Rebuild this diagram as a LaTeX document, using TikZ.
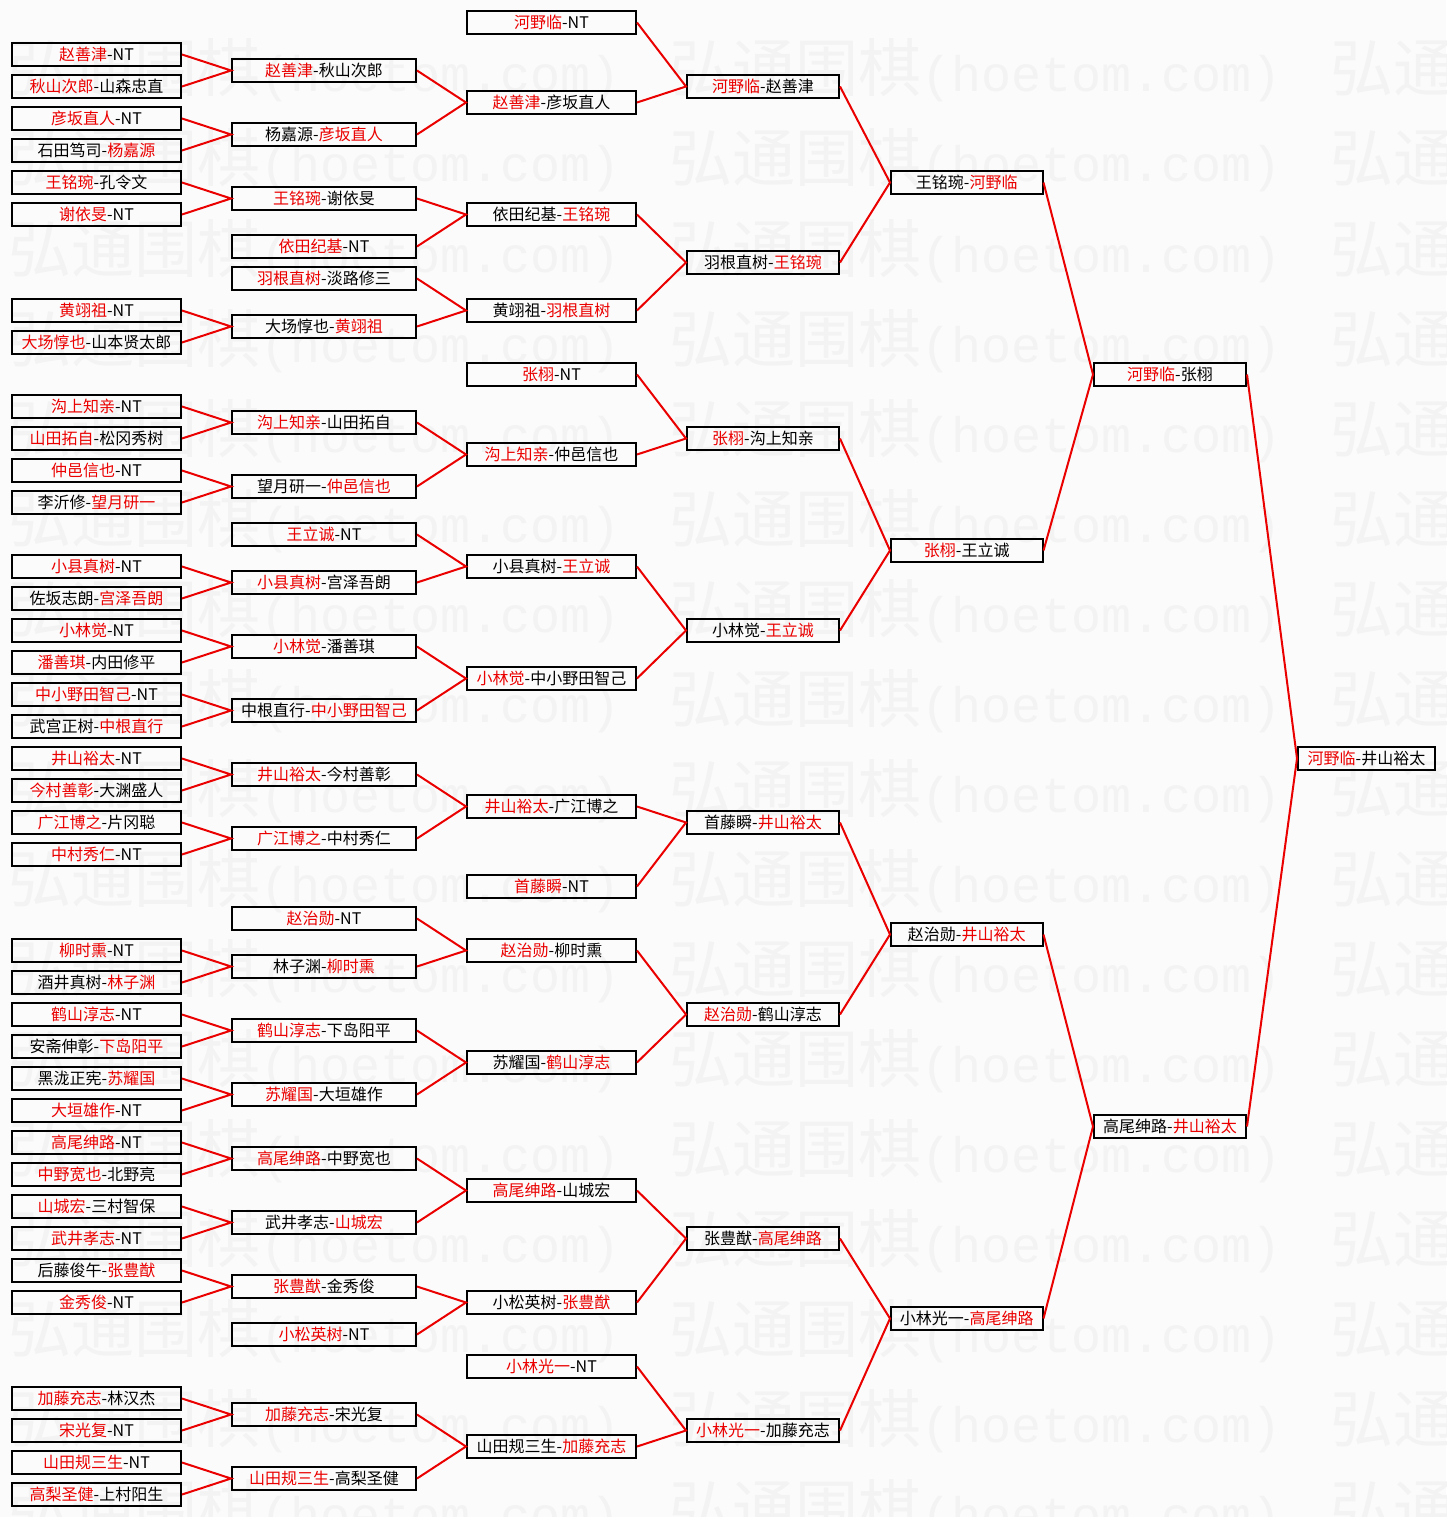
\documentclass[tikz,border=0pt]{standalone}
\usepackage{fontspec}
\newfontfamily\cjkf{Noto Sans CJK SC}
\newfontfamily\wmmono{Liberation Mono}
\definecolor{wred}{RGB}{235,0,0}
\definecolor{bgc}{RGB}{251,251,251}
\definecolor{wmc}{RGB}{243,243,243}
\newcommand\winr[1]{\textcolor{wred}{#1}}
\tikzset{
  box/.style={draw=black, line width=2pt, inner sep=0pt, minimum height=23pt,
    font=\cjkf\fontsize{16}{16}\selectfont, text=black},
  colA/.style={box, minimum width=169pt},
  colB/.style={box, minimum width=184pt},
  colC/.style={box, minimum width=169pt},
  colD/.style={box, minimum width=152pt},
  colE/.style={box, minimum width=151.5pt},
  colF/.style={box, minimum width=152pt},
  colG/.style={box, minimum width=137pt},
  conn/.style={draw=wred, line width=2pt},
  wmark/.style={anchor=base west, inner sep=0pt, text=wmc}
}
\begin{document}
\begin{tikzpicture}[x=1pt,y=-1pt]
\useasboundingbox (0,0) rectangle (1446,1517);
\fill[bgc] (0,0) rectangle (1446,1517);
% watermark
\begin{scope}
\clip (0,0) rectangle (1446,1517);
\foreach \r in {0,...,16}{
  \foreach \c in {0,1,2}{
    \node[wmark] (wm-\r-\c) at ({8+661*\c},{92+90*\r}) {{\cjkf\fontsize{63}{63}\selectfont 弘通围棋}{\wmmono\fontsize{50}{50}\selectfont (hoetom.com)}};
  }
}
\end{scope}
% column 0
\node[colA] (a0) at (96.5,54.5) {\winr{赵善津}-NT};
\node[colA] (a1) at (96.5,86.5) {\winr{秋山次郎}-山森忠直};
\node[colA] (a2) at (96.5,118.5) {\winr{彦坂直人}-NT};
\node[colA] (a3) at (96.5,150.5) {石田笃司-\winr{杨嘉源}};
\node[colA] (a4) at (96.5,182.5) {\winr{王铭琬}-孔令文};
\node[colA] (a5) at (96.5,214.5) {\winr{谢依旻}-NT};
\node[colA] (a6) at (96.5,310.5) {\winr{黄翊祖}-NT};
\node[colA] (a7) at (96.5,342.5) {\winr{大场惇也}-山本贤太郎};
\node[colA] (a8) at (96.5,406.5) {\winr{沟上知亲}-NT};
\node[colA] (a9) at (96.5,438.5) {\winr{山田拓自}-松冈秀树};
\node[colA] (a10) at (96.5,470.5) {\winr{仲邑信也}-NT};
\node[colA] (a11) at (96.5,502.5) {李沂修-\winr{望月研一}};
\node[colA] (a12) at (96.5,566.5) {\winr{小县真树}-NT};
\node[colA] (a13) at (96.5,598.5) {佐坂志朗-\winr{宫泽吾朗}};
\node[colA] (a14) at (96.5,630.5) {\winr{小林觉}-NT};
\node[colA] (a15) at (96.5,662.5) {\winr{潘善琪}-内田修平};
\node[colA] (a16) at (96.5,694.5) {\winr{中小野田智己}-NT};
\node[colA] (a17) at (96.5,726.5) {武宫正树-\winr{中根直行}};
\node[colA] (a18) at (96.5,758.5) {\winr{井山裕太}-NT};
\node[colA] (a19) at (96.5,790.5) {\winr{今村善彰}-大渊盛人};
\node[colA] (a20) at (96.5,822.5) {\winr{广江博之}-片冈聪};
\node[colA] (a21) at (96.5,854.5) {\winr{中村秀仁}-NT};
\node[colA] (a22) at (96.5,950.5) {\winr{柳时熏}-NT};
\node[colA] (a23) at (96.5,982.5) {酒井真树-\winr{林子渊}};
\node[colA] (a24) at (96.5,1014.5) {\winr{鹤山淳志}-NT};
\node[colA] (a25) at (96.5,1046.5) {安斋伸彰-\winr{下岛阳平}};
\node[colA] (a26) at (96.5,1078.5) {黑泷正宪-\winr{苏耀国}};
\node[colA] (a27) at (96.5,1110.5) {\winr{大垣雄作}-NT};
\node[colA] (a28) at (96.5,1142.5) {\winr{高尾绅路}-NT};
\node[colA] (a29) at (96.5,1174.5) {\winr{中野宽也}-北野亮};
\node[colA] (a30) at (96.5,1206.5) {\winr{山城宏}-三村智保};
\node[colA] (a31) at (96.5,1238.5) {\winr{武井孝志}-NT};
\node[colA] (a32) at (96.5,1270.5) {后藤俊午-\winr{张豊猷}};
\node[colA] (a33) at (96.5,1302.5) {\winr{金秀俊}-NT};
\node[colA] (a34) at (96.5,1398.5) {\winr{加藤充志}-林汉杰};
\node[colA] (a35) at (96.5,1430.5) {\winr{宋光复}-NT};
\node[colA] (a36) at (96.5,1462.5) {\winr{山田规三生}-NT};
\node[colA] (a37) at (96.5,1494.5) {\winr{高梨圣健}-上村阳生};
% column 1
\node[colB] (b0) at (324,70.5) {\winr{赵善津}-秋山次郎};
\node[colB] (b1) at (324,134.5) {杨嘉源-\winr{彦坂直人}};
\node[colB] (b2) at (324,198.5) {\winr{王铭琬}-谢依旻};
\node[colB] (b3) at (324,246.5) {\winr{依田纪基}-NT};
\node[colB] (b4) at (324,278.5) {\winr{羽根直树}-淡路修三};
\node[colB] (b5) at (324,326.5) {大场惇也-\winr{黄翊祖}};
\node[colB] (b6) at (324,422.5) {\winr{沟上知亲}-山田拓自};
\node[colB] (b7) at (324,486.5) {望月研一-\winr{仲邑信也}};
\node[colB] (b8) at (324,534.5) {\winr{王立诚}-NT};
\node[colB] (b9) at (324,582.5) {\winr{小县真树}-宫泽吾朗};
\node[colB] (b10) at (324,646.5) {\winr{小林觉}-潘善琪};
\node[colB] (b11) at (324,710.5) {中根直行-\winr{中小野田智己}};
\node[colB] (b12) at (324,774.5) {\winr{井山裕太}-今村善彰};
\node[colB] (b13) at (324,838.5) {\winr{广江博之}-中村秀仁};
\node[colB] (b14) at (324,918.5) {\winr{赵治勋}-NT};
\node[colB] (b15) at (324,966.5) {林子渊-\winr{柳时熏}};
\node[colB] (b16) at (324,1030.5) {\winr{鹤山淳志}-下岛阳平};
\node[colB] (b17) at (324,1094.5) {\winr{苏耀国}-大垣雄作};
\node[colB] (b18) at (324,1158.5) {\winr{高尾绅路}-中野宽也};
\node[colB] (b19) at (324,1222.5) {武井孝志-\winr{山城宏}};
\node[colB] (b20) at (324,1286.5) {\winr{张豊猷}-金秀俊};
\node[colB] (b21) at (324,1334.5) {\winr{小松英树}-NT};
\node[colB] (b22) at (324,1414.5) {\winr{加藤充志}-宋光复};
\node[colB] (b23) at (324,1478.5) {\winr{山田规三生}-高梨圣健};
% column 2
\node[colC] (c0) at (551.5,22.5) {\winr{河野临}-NT};
\node[colC] (c1) at (551.5,102.5) {\winr{赵善津}-彦坂直人};
\node[colC] (c2) at (551.5,214.5) {依田纪基-\winr{王铭琬}};
\node[colC] (c3) at (551.5,310.5) {黄翊祖-\winr{羽根直树}};
\node[colC] (c4) at (551.5,374.5) {\winr{张栩}-NT};
\node[colC] (c5) at (551.5,454.5) {\winr{沟上知亲}-仲邑信也};
\node[colC] (c6) at (551.5,566.5) {小县真树-\winr{王立诚}};
\node[colC] (c7) at (551.5,678.5) {\winr{小林觉}-中小野田智己};
\node[colC] (c8) at (551.5,806.5) {\winr{井山裕太}-广江博之};
\node[colC] (c9) at (551.5,886.5) {\winr{首藤瞬}-NT};
\node[colC] (c10) at (551.5,950.5) {\winr{赵治勋}-柳时熏};
\node[colC] (c11) at (551.5,1062.5) {苏耀国-\winr{鹤山淳志}};
\node[colC] (c12) at (551.5,1190.5) {\winr{高尾绅路}-山城宏};
\node[colC] (c13) at (551.5,1302.5) {小松英树-\winr{张豊猷}};
\node[colC] (c14) at (551.5,1366.5) {\winr{小林光一}-NT};
\node[colC] (c15) at (551.5,1446.5) {山田规三生-\winr{加藤充志}};
% column 3
\node[colD] (d0) at (763,86.5) {\winr{河野临}-赵善津};
\node[colD] (d1) at (763,262.5) {羽根直树-\winr{王铭琬}};
\node[colD] (d2) at (763,438.5) {\winr{张栩}-沟上知亲};
\node[colD] (d3) at (763,630.5) {小林觉-\winr{王立诚}};
\node[colD] (d4) at (763,822.5) {首藤瞬-\winr{井山裕太}};
\node[colD] (d5) at (763,1014.5) {\winr{赵治勋}-鹤山淳志};
\node[colD] (d6) at (763,1238.5) {张豊猷-\winr{高尾绅路}};
\node[colD] (d7) at (763,1430.5) {\winr{小林光一}-加藤充志};
% column 4
\node[colE] (e0) at (966.75,182.5) {王铭琬-\winr{河野临}};
\node[colE] (e1) at (966.75,550.5) {\winr{张栩}-王立诚};
\node[colE] (e2) at (966.75,934.5) {赵治勋-\winr{井山裕太}};
\node[colE] (e3) at (966.75,1318.5) {小林光一-\winr{高尾绅路}};
% column 5
\node[colF] (f0) at (1170,374.5) {\winr{河野临}-张栩};
\node[colF] (f1) at (1170,1126.5) {高尾绅路-\winr{井山裕太}};
% column 6
\node[colG] (g0) at (1366.5,758.5) {\winr{河野临}-井山裕太};
% connectors
\foreach \p/\q/\t in {a0/a1/b0, a2/a3/b1, a4/a5/b2, a6/a7/b5, a8/a9/b6, a10/a11/b7,
  a12/a13/b9, a14/a15/b10, a16/a17/b11, a18/a19/b12, a20/a21/b13, a22/a23/b15,
  a24/a25/b16, a26/a27/b17, a28/a29/b18, a30/a31/b19, a32/a33/b20, a34/a35/b22, a36/a37/b23,
  b0/b1/c1, b2/b3/c2, b4/b5/c3, b6/b7/c5, b8/b9/c6, b10/b11/c7, b12/b13/c8, b14/b15/c10,
  b16/b17/c11, b18/b19/c12, b20/b21/c13, b22/b23/c15,
  c0/c1/d0, c2/c3/d1, c4/c5/d2, c6/c7/d3, c8/c9/d4, c10/c11/d5, c12/c13/d6, c14/c15/d7,
  d0/d1/e0, d2/d3/e1, d4/d5/e2, d6/d7/e3,
  e0/e1/f0, e2/e3/f1, f0/f1/g0}{
  \draw[conn] (\p.east) -- (\t.west) -- (\q.east);
}
\end{tikzpicture}
\end{document}
